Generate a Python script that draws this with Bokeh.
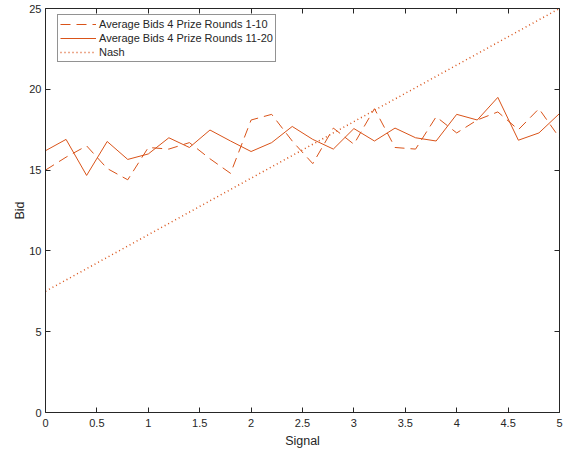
from bokeh.plotting import figure
from bokeh.models import LinearAxis, Range1d, Legend, LegendItem, FixedTicker
from bokeh.embed import file_html
from bokeh.resources import INLINE

signal = [0.0, 0.2, 0.4, 0.6, 0.8, 1.0, 1.2, 1.4, 1.6, 1.8, 2.0, 2.2, 2.4,
          2.6, 2.8, 3.0, 3.2, 3.4, 3.6, 3.8, 4.0, 4.2, 4.4, 4.6, 4.8, 5.0]
bids_1_10 = [15.0, 15.8, 16.5, 15.1, 14.4, 16.4, 16.3, 16.7, 15.7, 14.8, 18.1, 18.45, 16.8,
             15.4, 17.6, 16.6, 18.8, 16.4, 16.3, 18.3, 17.3, 18.1, 18.6, 17.5, 18.8, 17.0]
bids_11_20 = [16.2, 16.9, 14.67, 16.77, 15.66, 16.0, 17.0, 16.4, 17.48, 16.8, 16.15, 16.7, 17.7,
              16.9, 16.3, 17.57, 16.8, 17.6, 17.0, 16.8, 18.45, 18.1, 19.5, 16.85, 17.3, 18.5]
nash_x = [0.0, 5.0]
nash_y = [7.5, 25.0]

x_ticks = [0, 0.5, 1, 1.5, 2, 2.5, 3, 3.5, 4, 4.5, 5]
y_ticks = [0, 5, 10, 15, 20, 25]

COLOR = "#D95319"
AX = "#262626"
FONT = "Liberation Sans"

p = figure(width=563, height=452, output_backend="svg", toolbar_location=None,
           x_range=Range1d(0, 5), y_range=Range1d(0, 25),
           min_border_left=45, min_border_right=4, min_border_top=8, min_border_bottom=40,
           x_axis_label="Signal", y_axis_label="Bid")
p.grid.visible = False
p.outline_line_color = None
p.background_fill_color = "white"
p.border_fill_color = "white"

r1 = p.line(signal, bids_1_10, line_color=COLOR, line_width=1, line_dash="10 6")
r2 = p.line(signal, bids_11_20, line_color=COLOR, line_width=1)
r3 = p.line(nash_x, nash_y, line_color=COLOR, line_width=1.5, line_dash="1 3")

for ax in [p.xaxis[0], p.yaxis[0]]:
    ax.major_tick_in = 5
    ax.major_tick_out = 0
    ax.minor_tick_line_color = None
    ax.axis_line_color = AX
    ax.major_tick_line_color = AX
    ax.major_label_text_color = AX
    ax.major_label_text_font = FONT
    ax.major_label_text_font_size = "11px"
    ax.axis_label_text_font = FONT
    ax.axis_label_text_font_size = "12.5px"
    ax.axis_label_text_font_style = "normal"
    ax.axis_label_text_color = AX
p.xaxis[0].ticker = FixedTicker(ticks=x_ticks)
p.yaxis[0].ticker = FixedTicker(ticks=y_ticks)
p.xaxis[0].major_label_standoff = 6
p.xaxis[0].axis_label_standoff = 4
p.yaxis[0].major_label_standoff = 4
p.yaxis[0].axis_label_standoff = -1

top = LinearAxis(ticker=FixedTicker(ticks=x_ticks),
                 major_label_overrides={t: "" for t in x_ticks})
right = LinearAxis(ticker=FixedTicker(ticks=y_ticks),
                   major_label_overrides={t: "" for t in y_ticks})
for ax in [top, right]:
    ax.major_tick_in = 5
    ax.major_tick_out = 0
    ax.minor_tick_line_color = None
    ax.axis_line_color = AX
    ax.major_tick_line_color = AX
    ax.major_label_standoff = 0
p.add_layout(top, "above")
p.add_layout(right, "right")

legend = Legend(items=[
    LegendItem(label="Average Bids 4 Prize Rounds 1-10", renderers=[r1]),
    LegendItem(label="Average Bids 4 Prize Rounds 11-20", renderers=[r2]),
    LegendItem(label="Nash", renderers=[r3]),
], location=(12, 350))
legend.label_text_font = FONT
legend.label_text_font_size = "11px"
legend.label_text_color = AX
legend.border_line_color = AX
legend.border_line_width = 1
legend.background_fill_alpha = 1
legend.glyph_width = 36
legend.glyph_height = 14
legend.label_height = 14
legend.label_standoff = 3
legend.spacing = 0
legend.padding = 2
legend.margin = 0
p.add_layout(legend, "center")

open("out.html", "w").write(file_html(p, INLINE))
